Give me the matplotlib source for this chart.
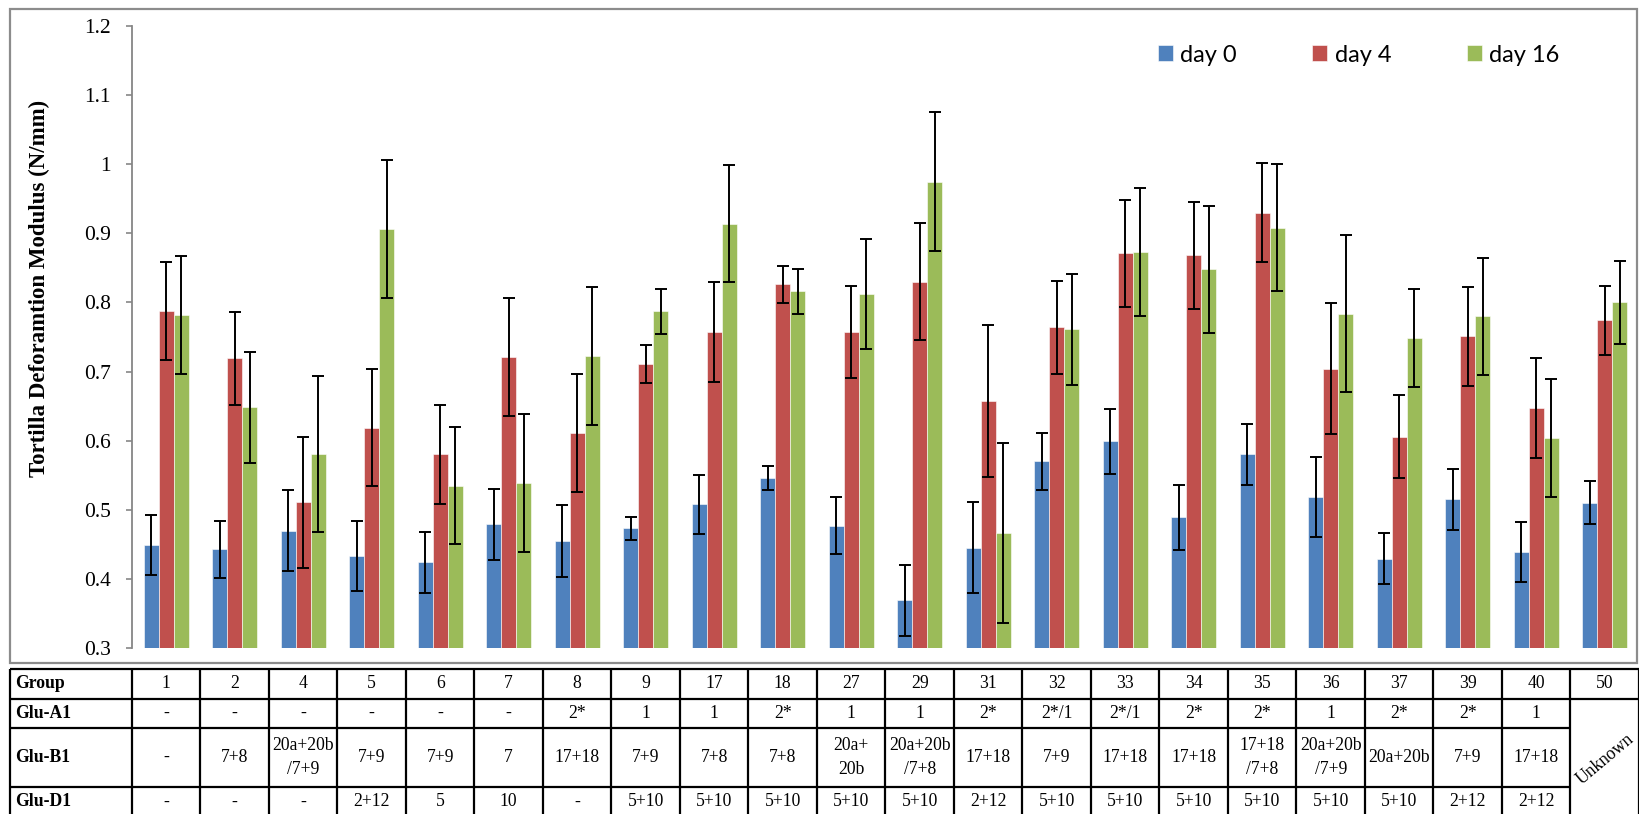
import matplotlib
matplotlib.use("Agg")
import matplotlib.pyplot as plt
from matplotlib.patches import Rectangle
from matplotlib.ticker import FuncFormatter, MultipleLocator
import numpy as np

# ---- data -------------------------------------------------------------
groups = ["1", "2", "4", "5", "6", "7", "8", "9", "17", "18", "27", "29",
          "31", "32", "33", "34", "35", "36", "37", "39", "40", "50"]

day0 = [0.449, 0.443, 0.470, 0.433, 0.424, 0.479, 0.455, 0.473, 0.508, 0.546, 0.477,
        0.369, 0.445, 0.570, 0.599, 0.489, 0.580, 0.519, 0.429, 0.515, 0.439, 0.510]
day0_err = [0.044, 0.041, 0.058, 0.051, 0.044, 0.051, 0.052, 0.017, 0.043, 0.017, 0.041,
            0.051, 0.066, 0.041, 0.047, 0.047, 0.044, 0.058, 0.037, 0.044, 0.044, 0.031]
day4 = [0.787, 0.719, 0.511, 0.619, 0.580, 0.721, 0.611, 0.711, 0.757, 0.826, 0.757,
        0.830, 0.658, 0.764, 0.871, 0.868, 0.930, 0.704, 0.606, 0.751, 0.647, 0.774]
day4_err = [0.071, 0.067, 0.095, 0.085, 0.072, 0.085, 0.085, 0.028, 0.072, 0.027, 0.067,
            0.085, 0.110, 0.067, 0.077, 0.078, 0.072, 0.095, 0.060, 0.072, 0.072, 0.050]
day16 = [0.782, 0.648, 0.581, 0.906, 0.535, 0.539, 0.722, 0.787, 0.914, 0.816, 0.812,
         0.975, 0.466, 0.761, 0.873, 0.848, 0.908, 0.784, 0.749, 0.780, 0.604, 0.800]
day16_err = [0.085, 0.080, 0.113, 0.100, 0.085, 0.100, 0.100, 0.033, 0.085, 0.032, 0.080,
             0.100, 0.130, 0.080, 0.092, 0.092, 0.092, 0.113, 0.071, 0.085, 0.085, 0.060]

series_labels = ["day 0", "day 4", "day 16"]
series_colors = ["#4F81BD", "#C0504D", "#9BBB59"]

row_labels = ["Group", "Glu-A1", "Glu-B1", "Glu-D1"]
glu_a1 = ["-", "-", "-", "-", "-", "-", "2*", "1", "1", "2*", "1", "1",
          "2*", "2*/1", "2*/1", "2*", "2*", "1", "2*", "2*", "1"]
glu_b1 = ["-", "7+8", "20a+20b\n/7+9", "7+9", "7+9", "7", "17+18", "7+9", "7+8", "7+8",
          "20a+\n20b", "20a+20b\n/7+8", "17+18", "7+9", "17+18", "17+18", "17+18\n/7+8",
          "20a+20b\n/7+9", "20a+20b", "7+9", "17+18"]
glu_d1 = ["-", "-", "-", "2+12", "5", "10", "-", "5+10", "5+10", "5+10", "5+10", "5+10",
          "2+12", "5+10", "5+10", "5+10", "5+10", "5+10", "5+10", "2+12", "2+12"]
last_group_note = "Unknown"

# ---- figure -------------------------------------------------------------
W, H = 1640, 814
fig = plt.figure(figsize=(W / 100, H / 100), dpi=100)
serif = "Liberation Serif"

plot_left, plot_top, plot_bottom = 132, 26, 648
col_w = 68.5
n = len(groups)
ax = fig.add_axes([plot_left / W, 1 - plot_bottom / H, n * col_w / W, (plot_bottom - plot_top) / H])

x = np.arange(n)
bw = 0.219
bars = []
for k, (vals, errs, c, lab) in enumerate(zip([day0, day4, day16],
                                             [day0_err, day4_err, day16_err],
                                             series_colors, series_labels)):
    xs = x + (k - 1) * bw
    b = ax.bar(xs, vals, width=bw, color=c, edgecolor="white", linewidth=0.4,
               label=lab, zorder=2)
    bars.append(b)
    ax.errorbar(xs, vals, yerr=errs, fmt="none", ecolor="black", elinewidth=1.4,
                capsize=4.2, capthick=1.4, zorder=3)

ax.set_xlim(-0.5, n - 0.5)
ax.set_ylim(0.3, 1.2)
ax.yaxis.set_major_locator(MultipleLocator(0.1))
ax.yaxis.set_major_formatter(FuncFormatter(lambda v, p: f"{v:.1f}".rstrip("0").rstrip(".")))
ax.set_xticks([])
for s in ["top", "right", "bottom"]:
    ax.spines[s].set_visible(False)
ax.spines["left"].set_color("#868686")
ax.spines["left"].set_linewidth(1.3)
ax.tick_params(axis="y", direction="out", length=4.5, width=1.2, color="#868686",
               pad=10.5, labelsize=15.5)
for t in ax.get_yticklabels():
    t.set_fontfamily(serif)
ax.patch.set_alpha(0)

fig.text(39 / W, 1 - 288 / H, "Tortilla Deforamtion Modulus (N/mm)", rotation=90,
         ha="center", va="center", fontsize=16.5, fontweight="bold", family=serif)

ax.legend(handles=bars, labels=series_labels, loc="center left",
          bbox_to_anchor=(1158 / W, 1 - 55 / H), bbox_transform=fig.transFigure,
          ncol=3, frameon=False, prop={"family": "Lato", "size": 17},
          handlelength=0.64, handleheight=0.64, handletextpad=0.3,
          columnspacing=3.2, borderpad=0, borderaxespad=0)

# ---- overlay in pixel coordinates: chart frame and genotype table --------
ov = fig.add_axes([0, 0, 1, 1])
ov.set_xlim(0, W)
ov.set_ylim(H, 0)
ov.axis("off")
ov.patch.set_alpha(0)

ov.add_patch(Rectangle((10, 9), 1627, 654, fill=False, edgecolor="#8c8c8c", linewidth=1.6))

row_y = [669, 699, 728, 787, 820]
col_x = [10] + [plot_left + col_w * k for k in range(n + 1)]
lw = 1.6
for i, yv in enumerate(row_y[:-1]):
    xe = col_x[-1] if i <= 1 else col_x[-2]
    ov.plot([col_x[0], xe], [yv, yv], color="black", lw=lw, solid_capstyle="butt")
for xv in col_x:
    ov.plot([xv, xv], [row_y[0], row_y[-1]], color="black", lw=lw, solid_capstyle="butt")

row_c = [(row_y[i] + row_y[i + 1]) / 2 for i in range(4)]
row_c[3] = 802
for lab, yc in zip(row_labels, row_c):
    ov.text(15, yc, lab, ha="left", va="center", fontsize=12.7, fontweight="bold", family=serif)

cell_kw = dict(ha="center", va="center", fontsize=12.7, family=serif, linespacing=1.55)
for k, g in enumerate(groups):
    ov.text(col_x[k + 1] + col_w / 2, row_c[0], g, **cell_kw)
for k in range(n - 1):
    xc = col_x[k + 1] + col_w / 2
    ov.text(xc, row_c[1], glu_a1[k], **cell_kw)
    ov.text(xc, row_c[2], glu_b1[k], **cell_kw)
    ov.text(xc, row_c[3], glu_d1[k], **cell_kw)
ov.text(col_x[n] + col_w / 2, (row_y[1] + row_y[-1]) / 2, last_group_note,
        rotation=40, ha="center", va="center", fontsize=12.7, family=serif)

fig.savefig("out.png", dpi=100)
